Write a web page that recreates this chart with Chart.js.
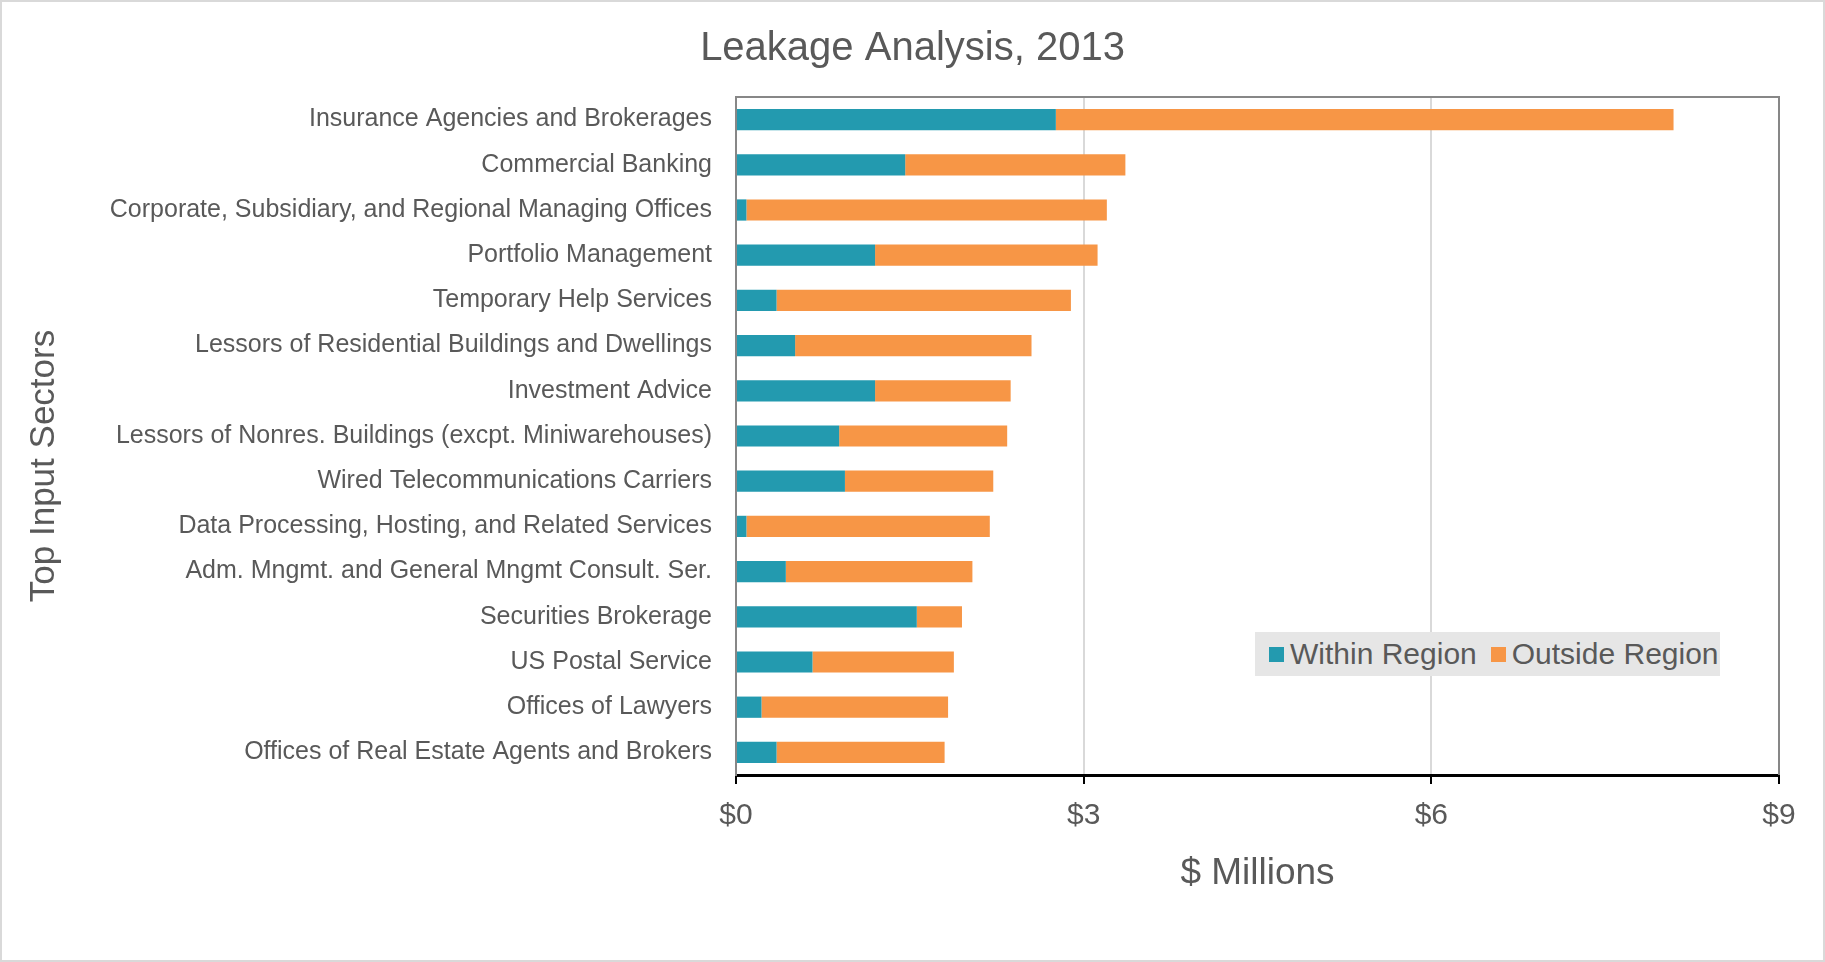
<!DOCTYPE html>
<html>
<head>
<meta charset="utf-8">
<script src="https://cdn.jsdelivr.net/npm/chart.js@4.4.0/dist/chart.umd.min.js"></script>
<style>
  html, body { margin: 0; padding: 0; background: #fff; }
  #wrap { position: relative; width: 1825px; height: 962px; }
  #legend {
    position: absolute; left: 1255px; top: 632px; width: 465px; height: 44px;
    background: #e6e6e6; font-family: "Liberation Sans", Arial, sans-serif;
    font-size: 30px; color: #595959; display: flex; align-items: center;
  }
  #legend span.box { display: inline-block; width: 15px; height: 15px; margin: 0 6px 0 14px; }
</style>
</head>
<body>
<div id="wrap">
  <canvas id="chart" width="1825" height="962"></canvas>
  <div id="legend"></div>
</div>
<script>
const sectors = [
  "Insurance Agencies and Brokerages",
  "Commercial Banking",
  "Corporate, Subsidiary, and Regional Managing Offices",
  "Portfolio Management",
  "Temporary Help Services",
  "Lessors of Residential Buildings and Dwellings",
  "Investment Advice",
  "Lessors of Nonres. Buildings (excpt. Miniwarehouses)",
  "Wired Telecommunications Carriers",
  "Data Processing, Hosting, and Related Services",
  "Adm. Mngmt. and General Mngmt Consult. Ser.",
  "Securities Brokerage",
  "US Postal Service",
  "Offices of Lawyers",
  "Offices of Real Estate Agents and Brokers"
];
const withinRegion  = [2.76, 1.46, 0.09, 1.20, 0.35, 0.51, 1.20, 0.89, 0.94, 0.09, 0.43, 1.56, 0.66, 0.22, 0.35];
const outsideRegion = [5.33, 1.90, 3.11, 1.92, 2.54, 2.04, 1.17, 1.45, 1.28, 2.10, 1.61, 0.39, 1.22, 1.61, 1.45];
const xTicks = [0, 3, 6, 9];

const seriesNames = ["Within Region", "Outside Region"];
const colors = ["#239aaf", "#f79646"];
const txt = "#595959";
const font = "'Liberation Sans', Arial, sans-serif";

// legend sits inside the plot like the original
const leg = document.getElementById('legend');
seriesNames.forEach((n, i) => {
  leg.innerHTML += '<span class="box" style="background:' + colors[i] + '"></span><span>' + n + '</span>';
});

// frame round the plot and the picture, plus the y title (it sits lower than chart.js would put it)
const frame = {
  id: 'frame',
  beforeDraw(chart) {
    const c = chart.ctx;
    c.save();
    c.fillStyle = '#fff';
    c.fillRect(0, 0, chart.width, chart.height);
    c.strokeStyle = '#d9d9d9';
    c.lineWidth = 2;
    c.strokeRect(1, 1, chart.width - 2, chart.height - 2);
    c.restore();
  },
  afterDatasetsDraw(chart) {
    const a = chart.chartArea, c = chart.ctx;
    c.save();
    c.strokeStyle = '#878787';
    c.lineWidth = 2;
    c.beginPath();
    c.moveTo(a.left, a.bottom);
    c.lineTo(a.left, a.top);
    c.lineTo(a.right, a.top);
    c.lineTo(a.right, a.bottom);
    c.stroke();

    c.translate(44, 466);
    c.rotate(-Math.PI / 2);
    c.fillStyle = txt;
    c.font = "35px " + font;
    c.textAlign = 'center';
    c.textBaseline = 'middle';
    c.fillText('Top Input Sectors', 0, 0);
    c.restore();
  }
};

new Chart(document.getElementById('chart'), {
  type: 'bar',
  data: {
    labels: sectors,
    datasets: [
      { label: seriesNames[0], data: withinRegion, backgroundColor: colors[0] },
      { label: seriesNames[1], data: outsideRegion, backgroundColor: colors[1] }
    ]
  },
  options: {
    indexAxis: 'y',
    responsive: false,
    animation: false,
    devicePixelRatio: 1,
    layout: { padding: { left: 46, right: 46, top: 0, bottom: 0 } },
    datasets: { bar: { categoryPercentage: 1, barPercentage: 0.47 } },
    plugins: {
      legend: { display: false },
      tooltip: { enabled: false },
      title: {
        display: true,
        text: 'Leakage Analysis, 2013',
        color: txt,
        font: { family: font, size: 40, weight: 'normal' },
        padding: { top: 25, bottom: 24 }
      }
    },
    scales: {
      x: {
        stacked: true,
        min: 0, max: 9,
        afterBuildTicks: s => { s.ticks = xTicks.map(v => ({ value: v })); },
        afterFit: s => { s.height = 187; },
        ticks: {
          color: txt, padding: 14,
          font: { family: font, size: 30 },
          callback: v => '$' + v
        },
        grid: { color: '#d9d9d9', lineWidth: 2, tickColor: '#000', tickLength: 9 },
        border: { color: '#000', width: 3 },
        title: {
          display: true, text: '$ Millions', color: txt,
          font: { family: font, size: 37 },
          padding: { top: 10, bottom: 66 }
        }
      },
      y: {
        stacked: true,
        afterFit: s => { s.width = 690; },
        ticks: { color: txt, padding: 16, font: { family: font, size: 25 } },
        grid: { display: false },
        border: { color: '#878787', width: 2 }
      }
    }
  },
  plugins: [frame]
});
</script>
</body>
</html>
